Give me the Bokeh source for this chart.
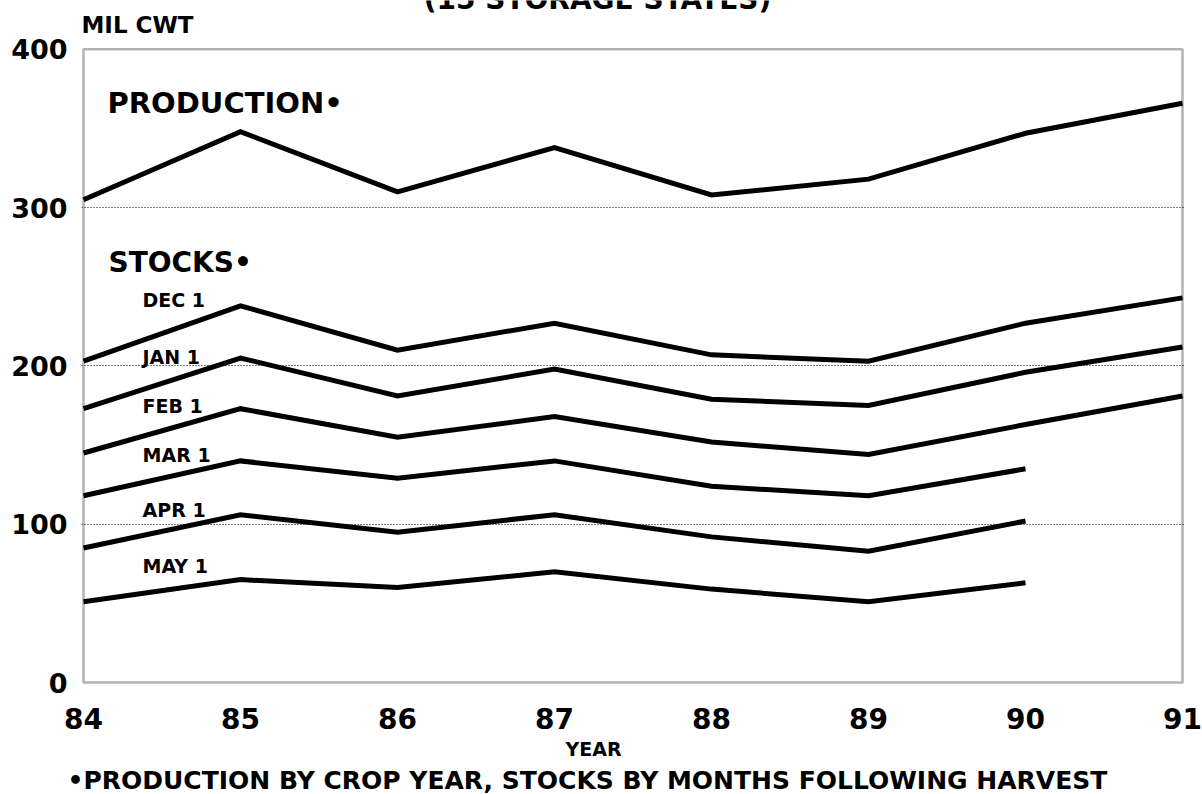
from bokeh.plotting import figure
from bokeh.models import Range1d, FixedTicker, Label, Title, BoxAnnotation
from bokeh.embed import file_html
from bokeh.resources import INLINE

# ---- data ----
years = [84, 85, 86, 87, 88, 89, 90, 91]
years_to90 = [84, 85, 86, 87, 88, 89, 90]
production = [305, 348, 310, 338, 308, 318, 347, 366]
dec1 = [203, 238, 210, 227, 207, 203, 227, 243]
jan1 = [173, 205, 181, 198, 179, 175, 196, 212]
feb1 = [145, 173, 155, 168, 152, 144, 163, 181]
mar1 = [118, 140, 129, 140, 124, 118, 135]
apr1 = [85, 106, 95, 106, 92, 83, 102]
may1 = [51, 65, 60, 70, 59, 51, 63]
y_ticks = [0, 100, 200, 300, 400]
grid_ticks = [100, 200, 300]
x_ticks = [84, 85, 86, 87, 88, 89, 90, 91]
x_min, x_max = 84, 91
y_min, y_max = 0, 400

FONT = "DejaVu Sans"
W, H = 1202, 794
PXX = 157.0      # px per year
PXY = 1.5875     # px per unit
PAD = 2          # px of frame beyond the drawn box

x_range = Range1d(x_min - PAD / PXX, x_max + PAD / PXX)
frame_h = 686
y_range = Range1d(y_min - PAD / PXY, y_min - PAD / PXY + frame_h / PXY)

p = figure(width=W, height=H, output_backend="svg", toolbar_location=None,
           x_range=x_range, y_range=y_range,
           min_border_left=81, min_border_right=W - 1184, min_border_top=0,
           min_border_bottom=H - frame_h)
p.title.visible = False
p.background_fill_color = "white"
p.border_fill_color = "white"
p.outline_line_color = None

for ax in (p.xaxis[0], p.yaxis[0]):
    ax.axis_line_color = None
    ax.major_tick_in = 0
    ax.major_tick_out = 0
    ax.minor_tick_in = 0
    ax.minor_tick_out = 0
    ax.major_label_text_font = FONT
    ax.major_label_text_font_style = "bold"
    ax.major_label_text_color = "black"

p.xaxis.ticker = FixedTicker(ticks=x_ticks)
p.yaxis.ticker = FixedTicker(ticks=y_ticks)
p.xaxis.major_label_text_font_size = "28px"
p.yaxis.major_label_text_font_size = "27px"
p.xaxis.major_label_standoff = 23
p.yaxis.major_label_standoff = 14

p.xgrid.grid_line_color = None
p.ygrid.ticker = FixedTicker(ticks=grid_ticks)
p.ygrid.grid_line_color = "black"
p.ygrid.grid_line_width = 1
p.ygrid.grid_line_dash = "1 2"

# plot box
p.add_layout(BoxAnnotation(left=x_min, right=x_max, bottom=y_min, top=y_max,
                           fill_color=None, fill_alpha=0,
                           line_color="black", line_width=2.5))

LW = 5
for ys, xs in [(production, years), (dec1, years), (jan1, years), (feb1, years),
               (mar1, years_to90), (apr1, years_to90), (may1, years_to90)]:
    p.line(xs, ys, line_color="black", line_width=LW, line_join="miter")

def lab(x, y, text, size, align="left", baseline="middle"):
    p.add_layout(Label(x=x, y=y, text=text, text_font=FONT, text_font_style="bold",
                       text_font_size=size, text_color="black",
                       text_align=align, text_baseline=baseline))

lab(87.274, 431.5, "(15 STORAGE STATES)", "28px", align="center", baseline="alphabetic")
lab(83.987, 415.7, "MIL CWT", "23px")
lab(84.153, 366.0, "PRODUCTION\u2022", "29px")
lab(84.159, 265.2, "STOCKS\u2022", "28px")
lab(84.376, 241.9, "DEC 1", "19px")
lab(84.376, 205.4, "JAN 1", "19px")
lab(84.376, 174.5, "FEB 1", "19px")
lab(84.376, 143.6, "MAR 1", "19px")
lab(84.376, 108.9, "APR 1", "19px")
lab(84.376, 73.7, "MAY 1", "19px")

t_year = Title(text="YEAR", align="left", offset=484, standoff=8,
               text_font=FONT, text_font_style="bold", text_font_size="19px",
               text_color="black")
t_note = Title(text="\u2022PRODUCTION BY CROP YEAR, STOCKS BY MONTHS FOLLOWING HARVEST",
               align="left", offset=-14, standoff=0,
               text_font=FONT, text_font_style="bold", text_font_size="25px",
               text_color="black")
p.add_layout(t_year, "below")
p.add_layout(t_note, "below")

open("out.html", "w").write(file_html(p, INLINE))
